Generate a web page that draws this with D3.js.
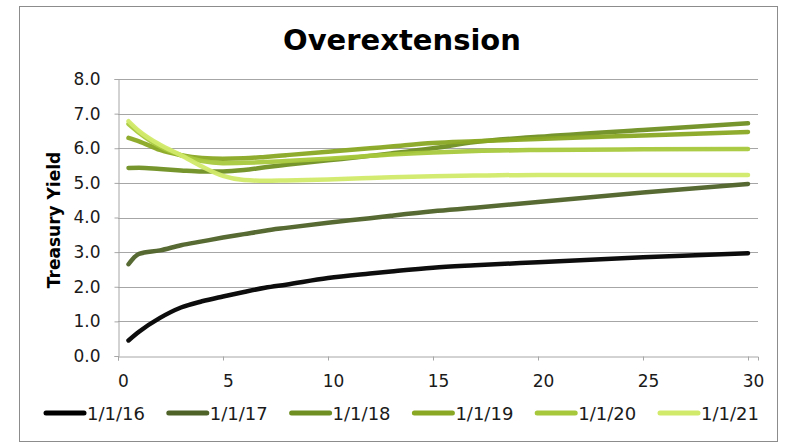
<!DOCTYPE html>
<html><head><meta charset="utf-8">
<script src="https://cdn.jsdelivr.net/npm/d3@7"></script>
<style>body{margin:0;background:#fff;} svg{display:block;}</style>
</head><body>
<svg id="chart" width="785" height="443"></svg>
<script>
const title = "Overextension";
const yAxisTitle = "Treasury Yield";
const maturities = [0.5, 1, 2, 3, 4, 5, 6, 7, 8, 10, 12, 13, 15, 17, 20, 25, 30];
const seriesNames = ["1/1/16", "1/1/17", "1/1/18", "1/1/19", "1/1/20", "1/1/21"];
const seriesColors = ["#000000", "#4f6228", "#6f8f22", "#8aa823", "#a8c83c", "#d2ea6a"];
const y16 = [0.45, 0.70, 1.10, 1.40, 1.58, 1.72, 1.85, 1.97, 2.06, 2.25, 2.38, 2.44, 2.55, 2.62, 2.71, 2.85, 2.97];
const y17 = [2.65, 2.95, 3.05, 3.20, 3.31, 3.42, 3.52, 3.62, 3.70, 3.85, 3.98, 4.05, 4.18, 4.28, 4.45, 4.72, 4.97];
const y18 = [5.43, 5.44, 5.40, 5.36, 5.33, 5.33, 5.37, 5.45, 5.52, 5.65, 5.78, 5.85, 6.00, 6.18, 6.33, 6.53, 6.72];
const y19 = [6.30, 6.20, 5.95, 5.80, 5.72, 5.70, 5.71, 5.75, 5.80, 5.90, 6.00, 6.05, 6.15, 6.20, 6.27, 6.37, 6.47];
const y20 = [6.70, 6.45, 6.05, 5.80, 5.63, 5.57, 5.58, 5.60, 5.63, 5.70, 5.78, 5.82, 5.88, 5.92, 5.95, 5.97, 5.98];
const y21 = [6.78, 6.50, 6.10, 5.80, 5.47, 5.20, 5.08, 5.06, 5.07, 5.10, 5.14, 5.16, 5.19, 5.21, 5.23, 5.23, 5.23];
const seriesValues = [y16, y17, y18, y19, y20, y21];
const xTicks = [0, 5, 10, 15, 20, 25, 30];
const yTicks = [0, 1, 2, 3, 4, 5, 6, 7, 8];

const FONT = "DejaVu Sans, Verdana, sans-serif";
const svg = d3.select("#chart");
svg.append("rect").attr("x", 19.5).attr("y", 6.5).attr("width", 758).attr("height", 435)
  .attr("fill", "#fff").attr("stroke", "#8c8c8c").attr("stroke-width", 1);

const pLeft = 118, pRight = 758, pTop = 79, pBottom = 356;
const x = d3.scaleLinear().domain([0, 30.476]).range([pLeft, pRight]);
const y = d3.scaleLinear().domain([0, 8]).range([pBottom, pTop]);

// gridlines
svg.append("g").selectAll("line").data(yTicks.filter(d => d > 0)).join("line")
  .attr("x1", pLeft).attr("x2", pRight)
  .attr("y1", d => Math.round(y(d)) + 0.5).attr("y2", d => Math.round(y(d)) + 0.5)
  .attr("stroke", "#a6a6a6").attr("stroke-width", 1);

// y axis
const yAxis = d3.axisLeft(y).tickValues(yTicks).tickFormat(d3.format(".1f")).tickSize(4).tickPadding(14);
const gy = svg.append("g").attr("transform", `translate(${pLeft + 0.5},0)`).call(yAxis);
gy.select(".domain").attr("stroke", "#a6a6a6");
gy.selectAll(".tick line").attr("stroke", "#a6a6a6");
gy.selectAll(".tick text").attr("font-family", FONT).attr("font-size", 17).attr("fill", "#1a1a1a");

// x axis
const xAxis = d3.axisBottom(x).tickValues(xTicks).tickFormat(d3.format("d")).tickSize(4).tickPadding(14);
const gx = svg.append("g").attr("transform", `translate(0,${pBottom + 0.5})`).call(xAxis);
gx.select(".domain").attr("stroke", "#a6a6a6");
gx.selectAll(".tick line").attr("stroke", "#a6a6a6");
gx.selectAll(".tick text").attr("font-family", FONT).attr("font-size", 17).attr("fill", "#1a1a1a")
  .attr("dx", 5);

// title
svg.append("text").attr("x", 402).attr("y", 50).attr("text-anchor", "middle")
  .attr("font-family", FONT).attr("font-weight", "bold")
  .attr("font-size", 29).attr("fill", "#000").text(title);

// y axis title
svg.append("text").attr("transform", `translate(60,220) rotate(-90)`).attr("text-anchor", "middle")
  .attr("font-family", FONT).attr("font-weight", "bold")
  .attr("font-size", 17).attr("fill", "#000").text(yAxisTitle);

// lines
const line = d3.line().x(d => x(d[0])).y(d => y(d[1])).curve(d3.curveMonotoneX);
const order = [1, 0, 2, 3, 4, 5];
svg.append("g").selectAll("path").data(order).join("path")
  .attr("d", i => line(maturities.map((m, k) => [m, seriesValues[i][k]])))
  .attr("fill", "none").attr("stroke", i => seriesColors[i])
  .attr("stroke-width", 4.5).attr("stroke-linecap", "round").attr("stroke-linejoin", "round")
  .attr("opacity", 0.95);

// legend
const lg = svg.append("g");
seriesNames.forEach((name, i) => {
  const lx = 46 + i * 122.8;
  lg.append("line").attr("x1", lx).attr("x2", lx + 38).attr("y1", 413).attr("y2", 413)
    .attr("stroke", seriesColors[i]).attr("stroke-width", 5).attr("stroke-linecap", "round");
  lg.append("text").attr("x", lx + 41).attr("y", 420)
    .attr("font-family", FONT).attr("font-size", 18)
    .attr("fill", "#1a1a1a").text(name);
});
</script>
</body></html>
